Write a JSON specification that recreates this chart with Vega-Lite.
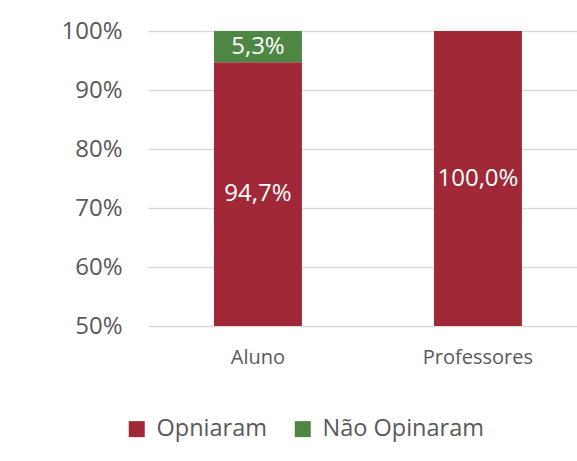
{
  "$schema": "https://vega.github.io/schema/vega-lite/v6.json",
  "width": 429,
  "height": 295,
  "autosize": {"type": "none"},
  "padding": {"left": 148, "top": 31, "right": 0, "bottom": 135},
  "background": "white",
  "config": {
    "font": "Open Sans",
    "view": {"stroke": null},
    "locale": {"number": {"decimal": ",", "thousands": ".", "grouping": [3], "currency": ["R$", ""]}}
  },
  "data": {
    "values": [
      {"grupo": "Aluno", "resposta": "Opniaram", "valor": 0.947},
      {"grupo": "Aluno", "resposta": "Não Opinaram", "valor": 0.053},
      {"grupo": "Professores", "resposta": "Opniaram", "valor": 1.0}
    ]
  },
  "transform": [
    {"stack": "valor", "groupby": ["grupo"], "sort": [{"field": "resposta", "order": "descending"}], "as": ["inicio", "fim"]}
  ],
  "encoding": {
    "x": {
      "field": "grupo", "type": "nominal", "sort": ["Aluno", "Professores"],
      "scale": {"paddingInner": 0.6, "paddingOuter": 0.275, "align": 0.545},
      "axis": {"title": null, "labelAngle": 0, "ticks": false, "domain": false, "labelFontSize": 20, "labelColor": "#595959", "labelPadding": 21, "grid": false}
    }
  },
  "resolve": {"scale": {"y": "independent"}},
  "layer": [
    {
      "mark": {"type": "bar", "clip": true},
      "encoding": {
        "y": {
          "field": "fim", "type": "quantitative",
          "scale": {"domain": [0.5, 1], "zero": false, "nice": false},
          "axis": {"title": null, "format": ".0%", "values": [0.5, 0.6, 0.7, 0.8, 0.9, 1.0], "ticks": false, "domain": false, "labelFontSize": 24, "labelColor": "#595959", "labelPadding": 26, "gridColor": "#d9d9d9", "gridWidth": 1.3}
        },
        "y2": {"field": "inicio"},
        "color": {
          "field": "resposta", "type": "nominal",
          "scale": {"domain": ["Opniaram", "Não Opinaram"], "range": ["#A02837", "#4E8743"]},
          "legend": {"title": null, "orient": "none", "direction": "horizontal", "legendX": -23, "legendY": 386, "symbolType": "square", "symbolSize": 256, "symbolStrokeWidth": 0, "labelFontSize": 23.5, "labelColor": "#595959", "labelOffset": 8, "labelLimit": 400, "columnPadding": 24}
        }
      }
    },
    {
      "transform": [{"filter": "datum.resposta === 'Opniaram'"}],
      "mark": {"type": "text", "color": "white", "fontSize": 24, "baseline": "middle"},
      "encoding": {
        "y": {"field": "fim", "type": "quantitative", "scale": {"domain": [0.5, 1.5], "zero": false, "nice": false}, "axis": null},
        "text": {"field": "valor", "type": "quantitative", "format": ".1%"}
      }
    },
    {
      "transform": [{"filter": "datum.resposta !== 'Opniaram'"}],
      "mark": {"type": "text", "color": "white", "fontSize": 24, "baseline": "middle", "dy": 16},
      "encoding": {
        "y": {"field": "fim", "type": "quantitative", "scale": {"domain": [0.5, 1], "zero": false, "nice": false}, "axis": null},
        "text": {"field": "valor", "type": "quantitative", "format": ".1%"}
      }
    }
  ]
}
